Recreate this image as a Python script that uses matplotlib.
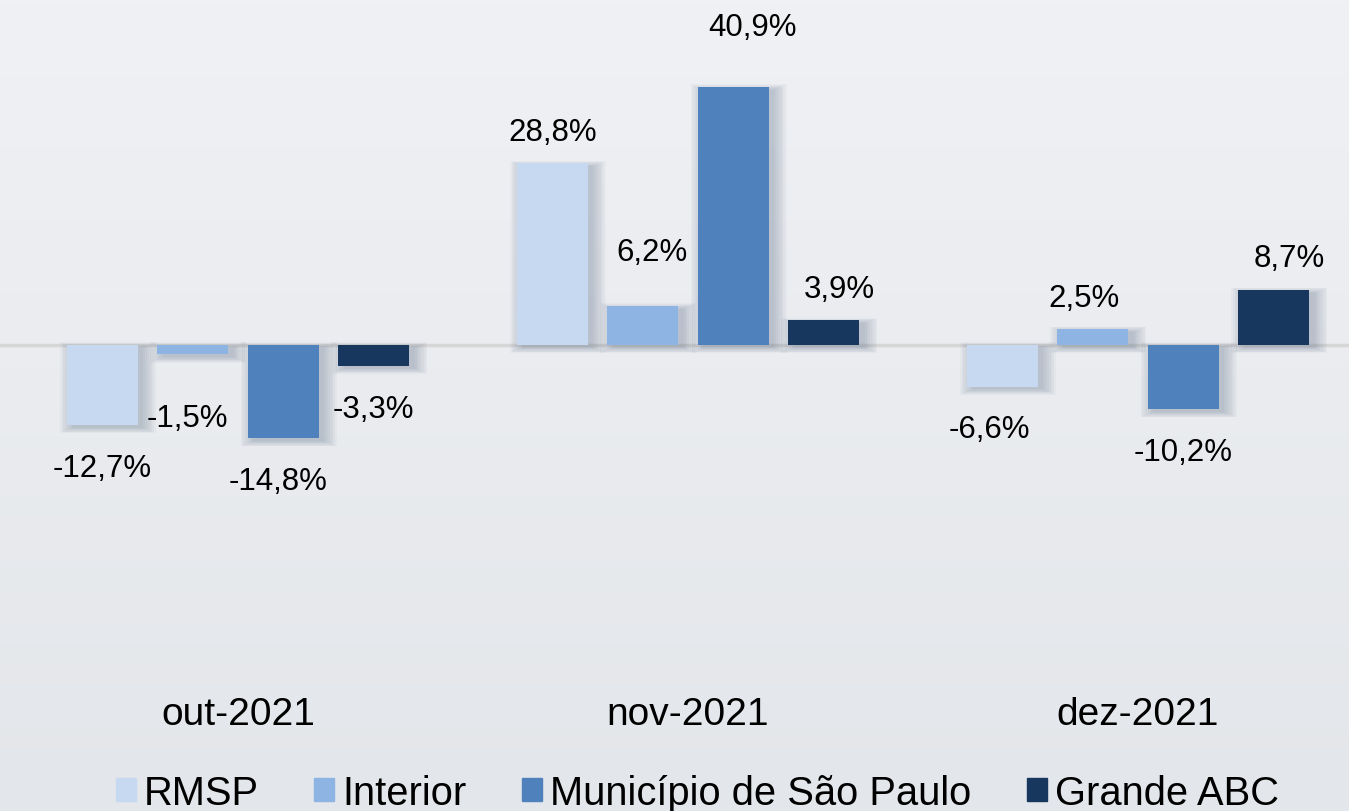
import numpy as np
import matplotlib
matplotlib.use("Agg")
import matplotlib.pyplot as plt
import matplotlib.transforms as mtransforms
from matplotlib.patches import Patch, Rectangle

plt.rcParams['font.family'] = ['Liberation Sans', 'DejaVu Sans']

# data
months = ['out-2021', 'nov-2021', 'dez-2021']
series = ['RMSP', 'Interior', 'Município de São Paulo', 'Grande ABC']
rmsp = [-12.7, 28.8, -6.6]
interior = [-1.5, 6.2, 2.5]
municipio = [-14.8, 40.9, -10.2]
grande_abc = [-3.3, 3.9, 8.7]

colors = ['#C6D9F1', '#8DB4E2', '#4F81BD', '#17375E']

# label nudges (dx, dy) in points, keyed by (month, series) -- labels were dragged in the original
label_nudge = {(0, 1): (-4, 15), (0, 2): (-4, 0),
               (1, 1): (7, 16), (1, 2): (14, 20), (1, 3): (11, 0),
               (2, 0): (-9, 0), (2, 1): (-6, 0), (2, 3): (11, 0)}

fig = plt.figure(figsize=(13.49, 8.12), dpi=100)

# background gradient
bg = fig.add_axes([0, 0, 1, 1], zorder=0)
grad = np.linspace(0, 1, 256).reshape(-1, 1)
top = np.array([240, 241, 244]) / 255
bot = np.array([227, 230, 234]) / 255
img = top + (bot - top) * grad[:, :, None]
bg.imshow(img, aspect='auto', extent=[0, 1, 0, 1])
bg.axis('off')

ax = fig.add_axes([0, 132 / 812, 1, 680 / 812], zorder=1)
ax.patch.set_alpha(0)

x = np.arange(len(months))
step = 0.201
width = 0.158
all_vals = [rmsp, interior, municipio, grande_abc]

ax.axhline(0, color='#D6D6D6', lw=2.5, zorder=1)

for i, (vals, col) in enumerate(zip(all_vals, colors)):
    xs = x + (i - 1.5) * step
    # soft shadow
    off = mtransforms.offset_copy(ax.transData, fig=fig, x=4, y=-2, units='points')
    for k in range(8):
        for xv, v in zip(xs, vals):
            grow = 0.004 * k
            ax.add_patch(Rectangle((xv - width / 2 - grow, min(0, v) - grow * 30),
                                   width + 2 * grow, abs(v) + grow * 60,
                                   transform=off, color='#1F3A5F', alpha=0.03,
                                   lw=0, zorder=2))
    ax.bar(xs, vals, width, color=col, zorder=3)
    for j, (xv, v) in enumerate(zip(xs, vals)):
        dx, dy = label_nudge.get((j, i), (0, 0))
        txt = f'{v:.1f}%'.replace('.', ',')
        if v >= 0:
            ax.annotate(txt, (xv, v), xytext=(dx, 12 + dy),
                        textcoords='offset points', ha='center', va='bottom',
                        fontsize=22.5, color='black')
        else:
            ax.annotate(txt, (xv, v), xytext=(dx, -20 - dy),
                        textcoords='offset points', ha='center', va='top',
                        fontsize=22.5, color='black')

ax.set_xlim(-238 / 450, (1349 - 238) / 450)
ax.set_ylim((346 - 680) / 6.31, 346 / 6.31)
ax.set_xticks(x)
ax.set_xticklabels(months, fontsize=28)
ax.tick_params(axis='x', length=0, pad=12)
ax.set_yticks([])
for s in ax.spines.values():
    s.set_visible(False)

handles = [Patch(color=c, label=s) for c, s in zip(colors, series)]
fig.legend(handles=handles, loc='lower center', bbox_to_anchor=(0.517, -0.045), ncol=4,
           frameon=False, fontsize=28.7, handlelength=0.5, handleheight=0.5,
           handletextpad=0.2, columnspacing=1.4)

fig.savefig('out.png', dpi=100)
